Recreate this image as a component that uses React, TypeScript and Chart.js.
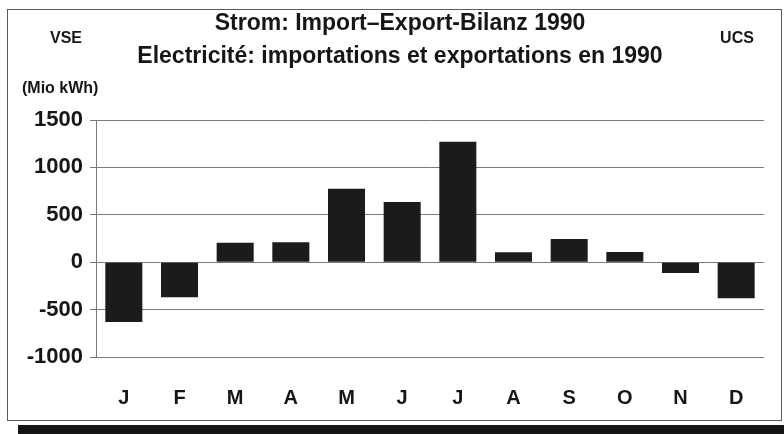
import React, { useEffect, useRef } from "react";
import { Chart, registerables } from "chart.js";

Chart.register(...registerables);

const months = ["J", "F", "M", "A", "M", "J", "J", "A", "S", "O", "N", "D"];
const balance = [-630, -370, 205, 210, 775, 635, 1270, 105, 245, 108, -115, -380];
const yMin = -1000;
const yMax = 1500;
const yStep = 500;
const titleLines = [
  "Strom: Import–Export-Bilanz 1990",
  "Electricité: importations et exportations en 1990",
];
const unitLabel = "(Mio kWh)";
const leftTag = "VSE";
const rightTag = "UCS";

const FONT = '"Liberation Sans", Arial, Helvetica, sans-serif';
const INK = "#161616";

const decoPlugin = {
  id: "deco",
  beforeDraw(chart: any) {
    const ctx = chart.ctx as CanvasRenderingContext2D;
    ctx.save();
    ctx.fillStyle = "#ffffff";
    ctx.fillRect(0, 0, chart.width, chart.height);
    ctx.strokeStyle = "#5a5a5a";
    ctx.lineWidth = 1;
    ctx.strokeRect(7.5, 9.5, 774, 411);
    ctx.fillStyle = "#151515";
    ctx.fillRect(18, 425, chart.width - 18, chart.height - 425);
    ctx.restore();
  },
  afterDraw(chart: any) {
    const ctx = chart.ctx as CanvasRenderingContext2D;
    ctx.save();
    ctx.fillStyle = INK;
    ctx.textBaseline = "middle";
    ctx.textAlign = "center";
    ctx.font = `bold 23px ${FONT}`;
    ctx.fillText(titleLines[0], 400, 24);
    ctx.fillText(titleLines[1], 400, 57);
    ctx.font = `bold 16px ${FONT}`;
    ctx.fillText(leftTag, 66, 39);
    ctx.fillText(rightTag, 737, 39);
    ctx.textAlign = "left";
    ctx.font = `bold 16px ${FONT}`;
    ctx.fillText(unitLabel, 22, 89);
    ctx.restore();
  },
};

export default function App() {
  const ref = useRef<HTMLCanvasElement | null>(null);
  useEffect(() => {
    if (!ref.current) return;
    const chart = new Chart(ref.current, {
      type: "bar",
      data: {
        labels: months,
        datasets: [
          {
            data: balance,
            backgroundColor: "#1b1b1b",
            borderWidth: 0,
            barPercentage: 0.665,
            categoryPercentage: 1,
          },
        ],
      },
      options: {
        responsive: false,
        animation: false,
        devicePixelRatio: 1,
        layout: { padding: { top: 120, right: 20, left: 0, bottom: 0 } },
        plugins: {
          legend: { display: false },
          title: { display: false },
          tooltip: { enabled: false },
        },
        scales: {
          x: {
            grid: { display: false, drawTicks: false },
            border: { display: false },
            ticks: {
              color: INK,
              font: { family: FONT, size: 20, weight: "bold" },
              padding: 29,
            },
            afterFit: (scale: any) => {
              scale.height = 77;
            },
          },
          y: {
            min: yMin,
            max: yMax,
            ticks: {
              stepSize: yStep,
              color: INK,
              font: { family: FONT, size: 22, weight: "bold" },
              padding: 7,
              callback: (v: any) => String(v),
            },
            grid: { color: "#7a7a7a", lineWidth: 1, tickLength: 6, drawTicks: true },
            border: { display: true, color: "#7a7a7a", width: 1 },
            afterFit: (scale: any) => {
              scale.width = 96;
            },
          },
        },
      },
      plugins: [decoPlugin],
    });
    return () => chart.destroy();
  }, []);
  return (
    <div style={{ position: "fixed", left: 0, top: 0, width: 784, height: 434 }}>
      <canvas ref={ref} width={784} height={434} />
    </div>
  );
}
